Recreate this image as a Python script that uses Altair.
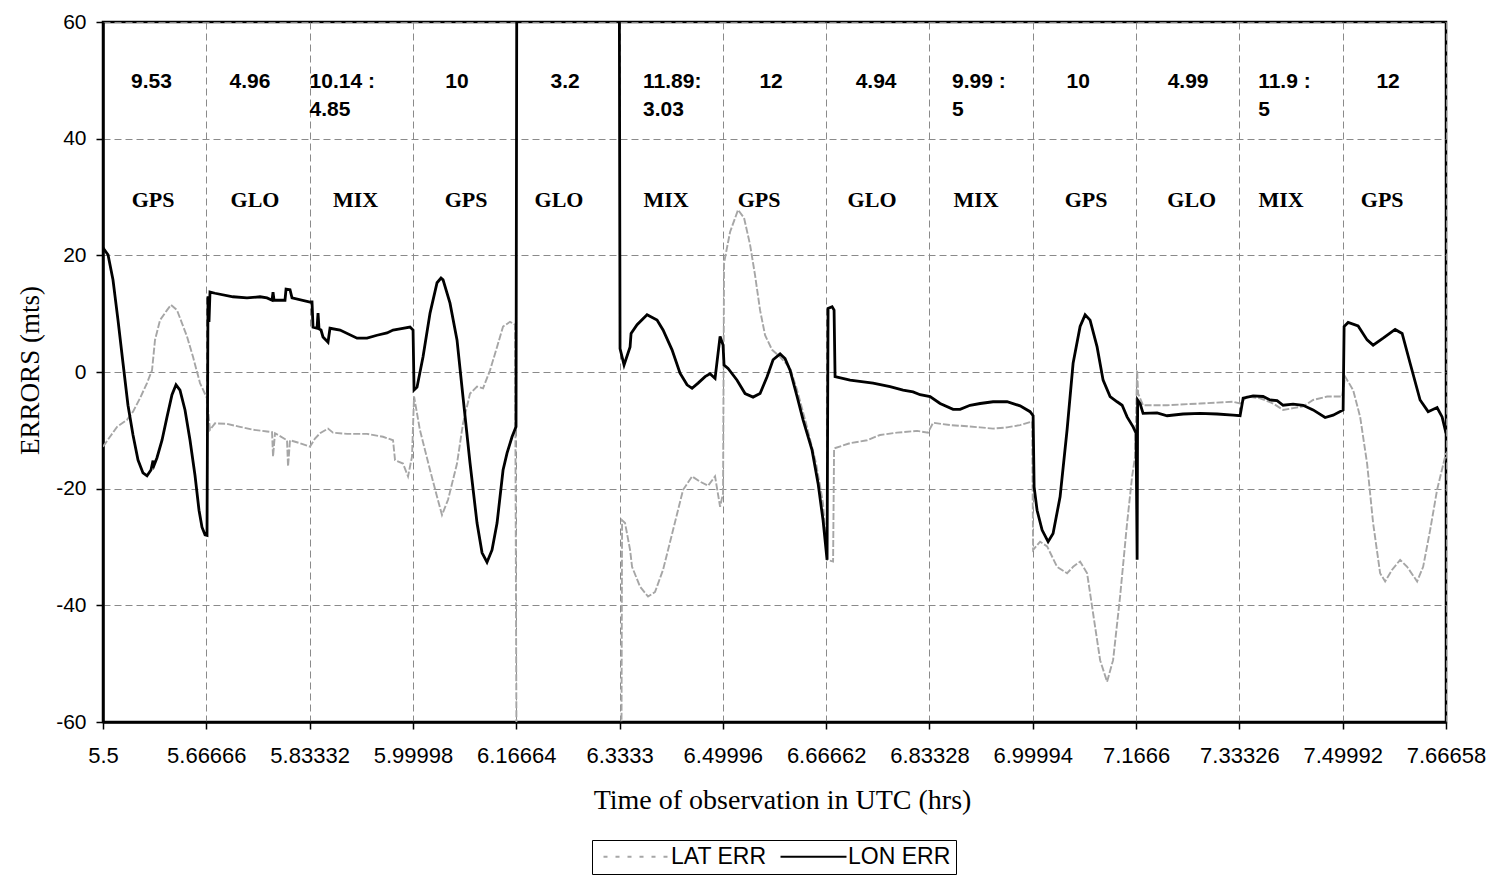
import altair as alt
import pandas as pd

SANS = "Liberation Sans"
SERIF = "Liberation Serif"

# ---------------- axis ticks ----------------
x_ticks = [5.5, 5.66666, 5.83332, 5.99998, 6.16664, 6.3333, 6.49996, 6.66662,
           6.83328, 6.99994, 7.1666, 7.33326, 7.49992, 7.66658]
y_ticks = [-60, -40, -20, 0, 20, 40, 60]

# ---------------- LON ERR (black) ----------------
lon_time = [5.5000, 5.5081, 5.5161, 5.5242, 5.5323, 5.5403, 5.5484, 5.5565, 5.5645, 5.5710,
            5.5774, 5.5807, 5.5823, 5.5871, 5.5952, 5.6033, 5.6113, 5.6178, 5.6242, 5.6323,
            5.6404, 5.6484, 5.6549, 5.6597, 5.6646, 5.6678, 5.6694, 5.6710, 5.6726, 5.6807,
            5.7097, 5.7323, 5.7533, 5.7646, 5.7727, 5.7743, 5.7759, 5.7936, 5.7953, 5.8017,
            5.8049, 5.8340, 5.8372, 5.8388, 5.8453, 5.8469, 5.8485, 5.8517, 5.8549, 5.8630,
            5.8662, 5.8824, 5.9098, 5.9259, 5.9421, 5.9582, 5.9679, 5.9792, 5.9953, 6.0002,
            6.0018, 6.0066, 6.0163, 6.0276, 6.0389, 6.0453, 6.0486, 6.0598, 6.0711, 6.0808,
            6.0921, 6.1034, 6.1115, 6.1195, 6.1276, 6.1357, 6.1454, 6.1518, 6.1599, 6.1663,
            6.1679, 6.3325, 6.3341, 6.3406, 6.3503, 6.3519, 6.3616, 6.3777, 6.3938, 6.4035,
            6.4180, 6.4309, 6.4422, 6.4503, 6.4600, 6.4713, 6.4793, 6.4874, 6.4955, 6.5003,
            6.5019, 6.5084, 6.5229, 6.5358, 6.5487, 6.5600, 6.5713, 6.5810, 6.5923, 6.6003,
            6.6084, 6.6197, 6.6294, 6.6439, 6.6536, 6.6616, 6.6681, 6.6697, 6.6762, 6.6794,
            6.6810, 6.7052, 6.7423, 6.7697, 6.7907, 6.8068, 6.8182, 6.8343, 6.8504, 6.8714,
            6.8827, 6.8988, 6.9150, 6.9359, 6.9585, 6.9795, 6.9956, 7.0005, 7.0021, 7.0069,
            7.0150, 7.0247, 7.0327, 7.0440, 7.0553, 7.0650, 7.0763, 7.0844, 7.0924, 7.1037,
            7.1134, 7.1247, 7.1360, 7.1441, 7.1521, 7.1618, 7.1666, 7.1683, 7.1691, 7.1731,
            7.1779, 7.2005, 7.2167, 7.2425, 7.2699, 7.2973, 7.3231, 7.3344, 7.3393, 7.3554,
            7.3715, 7.3828, 7.3941, 7.4038, 7.4199, 7.4361, 7.4522, 7.4716, 7.4845, 7.5006,
            7.5022, 7.5087, 7.5248, 7.5393, 7.5490, 7.5652, 7.5845, 7.5958, 7.6087, 7.6248,
            7.6378, 7.6522, 7.6603, 7.6666]
lon_err = [21.3, 20.1, 15.8, 8.9, 1.5, -5.7, -10.8, -15.1, -17.3, -17.8,
           -16.8, -15.2, -16.0, -14.7, -11.7, -7.7, -3.9, -2.2, -3.1, -6.5,
           -11.7, -17.7, -23.7, -26.6, -27.9, -28.0, 13.0, 8.6, 13.7, 13.5,
           12.9, 12.7, 12.9, 12.7, 12.3, 13.7, 12.3, 12.3, 14.2, 14.1,
           12.7, 12.0, 12.0, 7.7, 7.5, 10.1, 7.4, 7.2, 6.0, 5.1,
           7.5, 7.2, 5.8, 5.8, 6.3, 6.7, 7.2, 7.4, 7.7, 7.2,
           -3.1, -2.6, 2.6, 10.1, 15.3, 16.1, 15.8, 11.8, 5.5, -4.3,
           -15.6, -25.9, -31.0, -32.6, -30.5, -25.9, -16.8, -13.9, -11.1, -9.4,
           90, 90, 4.0, 1.2, 4.3, 6.6, 8.1, 9.8, 8.9, 7.2,
           3.8, -0.2, -2.2, -2.8, -1.9, -0.8, -0.3, -1.1, 6.1, 4.6,
           1.2, 0.6, -1.4, -3.7, -4.3, -3.7, -0.8, 2.1, 3.1, 2.3,
           0.3, -4.2, -8.2, -13.4, -19.1, -25.4, -32.2, 10.9, 11.2, 10.6,
           -0.8, -1.4, -1.9, -2.5, -3.1, -3.4, -3.9, -4.2, -5.4, -6.4,
           -6.4, -5.7, -5.4, -5.1, -5.1, -5.8, -6.8, -7.5, -19.7, -23.7,
           -27.1, -29.1, -27.7, -21.4, -9.9, 1.5, 7.8, 9.8, 8.9, 4.3,
           -1.4, -4.2, -5.1, -5.7, -7.7, -9.4, -10.5, -32.2, -4.8, -5.4,
           -7.1, -7.0, -7.5, -7.2, -7.1, -7.2, -7.4, -7.5, -4.5, -4.1,
           -4.2, -4.8, -4.9, -5.7, -5.5, -5.7, -6.5, -7.8, -7.4, -6.5,
           7.8, 8.5, 7.9, 5.5, 4.6, 5.8, 7.3, 6.6, 1.5, -4.8,
           -6.8, -6.1, -7.7, -10.5]

# ---------------- LAT ERR (grey) ----------------
lat_time = [5.5000, 5.5113, 5.5226, 5.5387, 5.5484, 5.5597, 5.5710, 5.5791, 5.5839, 5.5920,
            5.6033, 5.6097, 5.6194, 5.6355, 5.6452, 5.6565, 5.6678, 5.6726, 5.6807, 5.7001,
            5.7210, 5.7420, 5.7646, 5.7727, 5.7743, 5.7775, 5.7969, 5.7985, 5.8017, 5.8178,
            5.8340, 5.8420, 5.8501, 5.8630, 5.8711, 5.8937, 5.9259, 5.9518, 5.9679, 5.9711,
            5.9840, 5.9921, 5.9985, 6.0018, 6.0112, 6.0276, 6.0389, 6.0469, 6.0566, 6.0711,
            6.0808, 6.0921, 6.1034, 6.1131, 6.1244, 6.1357, 6.1454, 6.1566, 6.1647, 6.1679,
            6.3357, 6.3374, 6.3422, 6.3503, 6.3535, 6.3664, 6.3793, 6.3906, 6.4035, 6.4196,
            6.4358, 6.4503, 6.4632, 6.4761, 6.4874, 6.4955, 6.5003, 6.5019, 6.5116, 6.5245,
            6.5342, 6.5439, 6.5519, 6.5600, 6.5681, 6.5794, 6.5923, 6.6084, 6.6197, 6.6342,
            6.6504, 6.6616, 6.6681, 6.6778, 6.6794, 6.7052, 6.7326, 6.7536, 6.7810, 6.8133,
            6.8310, 6.8391, 6.8665, 6.8940, 6.9150, 6.9359, 6.9585, 6.9795, 6.9988, 7.0005,
            7.0118, 7.0231, 7.0392, 7.0553, 7.0650, 7.0763, 7.0876, 7.0973, 7.1086, 7.1198,
            7.1295, 7.1408, 7.1521, 7.1602, 7.1650, 7.1683, 7.1699, 7.1779, 7.2167, 7.2699,
            7.3231, 7.3344, 7.3457, 7.3667, 7.3877, 7.4038, 7.4199, 7.4361, 7.4522, 7.4748,
            7.4990, 7.5039, 7.5168, 7.5281, 7.5393, 7.5490, 7.5603, 7.5684, 7.5797, 7.5926,
            7.6039, 7.6200, 7.6297, 7.6410, 7.6522, 7.6666]
lat_err = [-12.8, -11.1, -9.4, -8.2, -6.8, -4.5, -1.9, 0.3, 5.5, 8.9,
           10.6, 11.5, 10.6, 6.1, 2.6, -1.9, -4.5, -9.9, -8.8, -8.9,
           -9.4, -9.9, -10.2, -10.3, -14.5, -10.5, -11.7, -16.2, -11.7, -12.2,
           -12.8, -11.4, -10.5, -9.7, -10.4, -10.6, -10.6, -11.1, -11.7, -15.1,
           -15.7, -17.9, -14.5, -4.2, -9.9, -16.8, -21.4, -24.5, -21.9, -15.7,
           -8.8, -3.7, -2.5, -2.8, 0.3, 4.3, 7.8, 8.6, 8.1, -90,
           -90, -25.4, -25.9, -30.5, -33.4, -36.8, -38.5, -37.7, -33.9, -27.1,
           -20.2, -17.9, -18.8, -19.5, -17.9, -23.1, -20.8, 18.7, 24.0, 27.8,
           26.4, 21.8, 16.6, 10.6, 6.3, 3.8, 2.6, 0.7, -3.1, -8.8,
           -15.7, -22.5, -32.2, -32.5, -13.1, -12.2, -11.7, -10.8, -10.4, -10.1,
           -10.4, -8.7, -9.1, -9.3, -9.5, -9.7, -9.5, -9.1, -8.5, -30.5,
           -29.1, -29.9, -33.4, -34.5, -33.4, -32.5, -34.5, -41.4, -49.4, -53.1,
           -49.4, -38.5, -25.9, -17.9, -14.5, 0.3, -3.7, -5.7, -5.7, -5.4,
           -5.1, -5.4, -4.2, -4.5, -5.4, -6.5, -6.2, -5.9, -4.8, -4.2,
           -4.2, -0.8, -3.1, -7.7, -15.7, -25.9, -34.5, -35.9, -33.9, -32.2,
           -33.4, -35.9, -33.4, -27.1, -20.2, -13.9]

assert len(lon_time) == len(lon_err)
assert len(lat_time) == len(lat_err)

# ---------------- annotations ----------------
acc_center_time = [5.5782, 5.7372, 6.0711, 6.2454, 6.5778, 6.7472, 7.0731, 7.2505, 7.5732]
acc_center_text = ["9.53", "4.96", "10", "3.2", "12", "4.94", "10", "4.99", "12"]
acc_left_time = [5.8332, 6.3712, 6.8698, 7.3635]
acc_left_text = ["10.14 :\n4.85", "11.89:\n3.03", "9.99 :\n5", "11.9 :\n5"]
sys_time = [5.5807, 5.7452, 5.9074, 6.0857, 6.2357, 6.4083, 6.5584, 6.7407,
            6.9085, 7.0860, 7.2564, 7.4006, 7.5636]
sys_text = ["GPS", "GLO", "MIX", "GPS", "GLO", "MIX", "GPS", "GLO",
            "MIX", "GPS", "GLO", "MIX", "GPS"]
ACC_ROW = 48.7
SYS_ROW = 28.3

series_names = ["LAT ERR", "LON ERR"]

lat_df = pd.DataFrame({"t": lat_time, "v": lat_err, "series": series_names[0]})
lon_df = pd.DataFrame({"t": lon_time, "v": lon_err, "series": series_names[1]})
accc_df = pd.DataFrame({"t": acc_center_time, "v": [ACC_ROW] * len(acc_center_time), "label": acc_center_text})
accl_df = pd.DataFrame({"t": acc_left_time, "v": [ACC_ROW] * len(acc_left_time), "label": acc_left_text})
sys_df = pd.DataFrame({"t": sys_time, "v": [SYS_ROW] * len(sys_time), "label": sys_text})

grid_common = dict(grid=True, gridDash=[7, 4], gridColor="#8a8a8a", gridWidth=1,
                   domainColor="black", domainWidth=2.5, tickColor="black",
                   tickSize=7, tickWidth=1.5, labelColor="black", labelFont=SANS,
                   labelOverlap=False, labelFlush=False, titleFont=SERIF,
                   titleFontWeight="normal", titleColor="black",
                   titleBaseline="alphabetic", titleAlign="center")

x_enc = alt.X("t:Q",
              scale=alt.Scale(domain=[5.5, 7.66658], nice=False, zero=False),
              axis=alt.Axis(values=x_ticks, labelExpr="datum.value + ''", labelFontSize=22,
                            labelPadding=16,
                            title="Time of observation in UTC (hrs)", titleFontSize=28,
                            titleX=679, titleY=86, **grid_common))
y_enc = alt.Y("v:Q",
              scale=alt.Scale(domain=[-60, 60], nice=False, zero=False),
              axis=alt.Axis(values=y_ticks, labelExpr="datum.value + ''", labelFontSize=21,
                            labelPadding=10,
                            title="ERRORS (mts)", titleFontSize=27,
                            titleX=-65, titleY=348, titleAngle=270, **grid_common))

legend = alt.Legend(
    title=None, orient="none", legendX=489, legendY=818,
    direction="horizontal", symbolType="M-1,0H12.2", symbolSize=100,
    symbolStrokeWidth=2, labelFont=SANS, labelFontSize=23,
    labelColor="black", labelOffset=51, columnPadding=7, padding=5,
    strokeColor="black", fillColor="white", labelLimit=400,
    symbolDash={"expr": "datum.value === 'LAT ERR' ? [4, 8] : [1, 0]"},
)
color = alt.Color("series:N", scale=alt.Scale(domain=series_names, range=["#a6a6a6", "#000000"]),
                  legend=legend)

lat_line = alt.Chart(lat_df).mark_line(strokeWidth=1.9, strokeDash=[7, 2], clip=True).encode(
    x=x_enc, y=y_enc, color=color)
lon_line = alt.Chart(lon_df).mark_line(strokeWidth=2.8, clip=True).encode(
    x=x_enc, y=y_enc, color=color)

acc_c = alt.Chart(accc_df).mark_text(font=SANS, fontSize=21, fontWeight="bold", align="center",
                                     baseline="alphabetic", color="black").encode(
    x=x_enc, y=y_enc, text="label:N")
acc_l = alt.Chart(accl_df).mark_text(font=SANS, fontSize=21, fontWeight="bold", align="left",
                                     baseline="alphabetic", color="black", lineBreak="\n",
                                     lineHeight=28).encode(
    x=x_enc, y=y_enc, text="label:N")
sys_t = alt.Chart(sys_df).mark_text(font=SERIF, fontSize=22, fontWeight="bold", align="center",
                                    baseline="alphabetic", color="black").encode(
    x=x_enc, y=y_enc, text="label:N")

chart = alt.layer(lat_line, lon_line, acc_c, acc_l, sys_t).properties(
    width=1343, height=700,
    autosize=alt.AutoSizeParams(type="none"),
    padding={"left": 103, "top": 22, "right": 55, "bottom": 153},
    background="white",
).configure_view(stroke="black", strokeWidth=2.5)

chart.save("out.html", embed_options={"renderer": "svg", "actions": False})
